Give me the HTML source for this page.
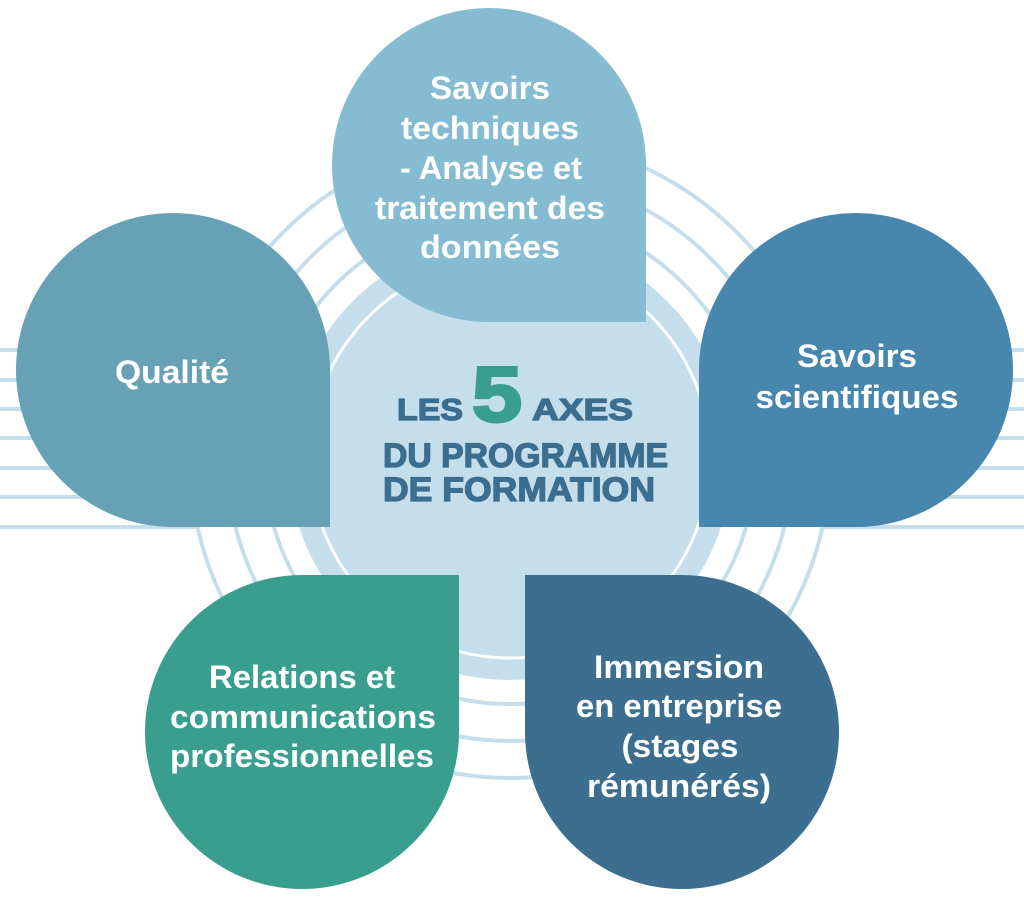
<!DOCTYPE html>
<html><head><meta charset="utf-8"><style>
html,body{margin:0;padding:0;background:#fff;}
svg{display:block;}
text{font-family:"Liberation Sans",Arial,sans-serif;font-weight:bold;}
</style></head><body>
<svg width="1024" height="904" viewBox="0 0 1024 904" xmlns="http://www.w3.org/2000/svg">
<g stroke="#c5deec" stroke-width="4" fill="none">
<line x1="0" y1="350" x2="1024" y2="350"/>
<line x1="0" y1="380" x2="1024" y2="380"/>
<line x1="0" y1="409" x2="1024" y2="409"/>
<line x1="0" y1="438" x2="1024" y2="438"/>
<line x1="0" y1="468" x2="1024" y2="468"/>
<line x1="0" y1="497" x2="1024" y2="497"/>
<line x1="0" y1="527" x2="1024" y2="527"/>
</g>
<circle cx="510" cy="458" r="322" fill="#fff"/>
<g stroke="#c5deec" stroke-width="4" fill="none">
<circle cx="510" cy="458" r="320"/>
<circle cx="510" cy="458" r="283"/>
<circle cx="510" cy="458" r="246"/>
</g>
<circle cx="510" cy="458" r="222" fill="#c5deec"/>
<circle cx="510" cy="458" r="200" fill="none" stroke="#fff" stroke-width="3"/>

<path d="M646,322 L489,322 A157,157 0 1 1 646,165 Z" fill="#85bcd1"/>
<path d="M330,527 L173,527 A157,157 0 1 1 330,370 Z" fill="#67a1b5"/>
<path d="M699,527 L856,527 A157,157 0 1 0 699,370 Z" fill="#4786ad"/>
<path d="M459,575 L302,575 A157,157 0 1 0 459,732 Z" fill="#3a9e8e"/>
<path d="M525,575 L682,575 A157,157 0 1 1 525,732 Z" fill="#3b6e8f"/>

<g fill="#fff" font-size="32" text-anchor="middle">
<text x="490" y="99" textLength="120" lengthAdjust="spacingAndGlyphs">Savoirs</text>
<text x="490" y="139" textLength="178" lengthAdjust="spacingAndGlyphs">techniques</text>
<text x="491" y="179" textLength="182" lengthAdjust="spacingAndGlyphs">- Analyse et</text>
<text x="490" y="219" textLength="230" lengthAdjust="spacingAndGlyphs">traitement des</text>
<text x="490" y="258" textLength="140" lengthAdjust="spacingAndGlyphs">données</text>

<text x="172" y="383" textLength="114" lengthAdjust="spacingAndGlyphs">Qualité</text>

<text x="857" y="367" textLength="120" lengthAdjust="spacingAndGlyphs">Savoirs</text>
<text x="857" y="408" textLength="203" lengthAdjust="spacingAndGlyphs">scientifiques</text>

<text x="302" y="688" textLength="186" lengthAdjust="spacingAndGlyphs">Relations et</text>
<text x="303" y="728" textLength="266" lengthAdjust="spacingAndGlyphs">communications</text>
<text x="302" y="767" textLength="264" lengthAdjust="spacingAndGlyphs">professionnelles</text>

<text x="679" y="678" textLength="170" lengthAdjust="spacingAndGlyphs">Immersion</text>
<text x="679" y="717" textLength="206" lengthAdjust="spacingAndGlyphs">en entreprise</text>
<text x="680" y="757" textLength="117" lengthAdjust="spacingAndGlyphs">(stages</text>
<text x="679" y="797" textLength="184" lengthAdjust="spacingAndGlyphs">rémunérés)</text>
</g>

<g fill="#3b6e8f" stroke="#3b6e8f" stroke-width="1.3">
<text x="397" y="420" font-size="31" textLength="66" lengthAdjust="spacingAndGlyphs">LES</text>
<text x="472" y="421" font-size="78" fill="#3a9e8e" stroke="#3a9e8e" stroke-width="3" textLength="50" lengthAdjust="spacingAndGlyphs">5</text>
<text x="532" y="420" font-size="31" textLength="101" lengthAdjust="spacingAndGlyphs">AXES</text>
<text x="383" y="467" font-size="34" textLength="285" lengthAdjust="spacingAndGlyphs">DU PROGRAMME</text>
<text x="383" y="501" font-size="34" textLength="272" lengthAdjust="spacingAndGlyphs">DE FORMATION</text>
</g>
</svg>
</body></html>
